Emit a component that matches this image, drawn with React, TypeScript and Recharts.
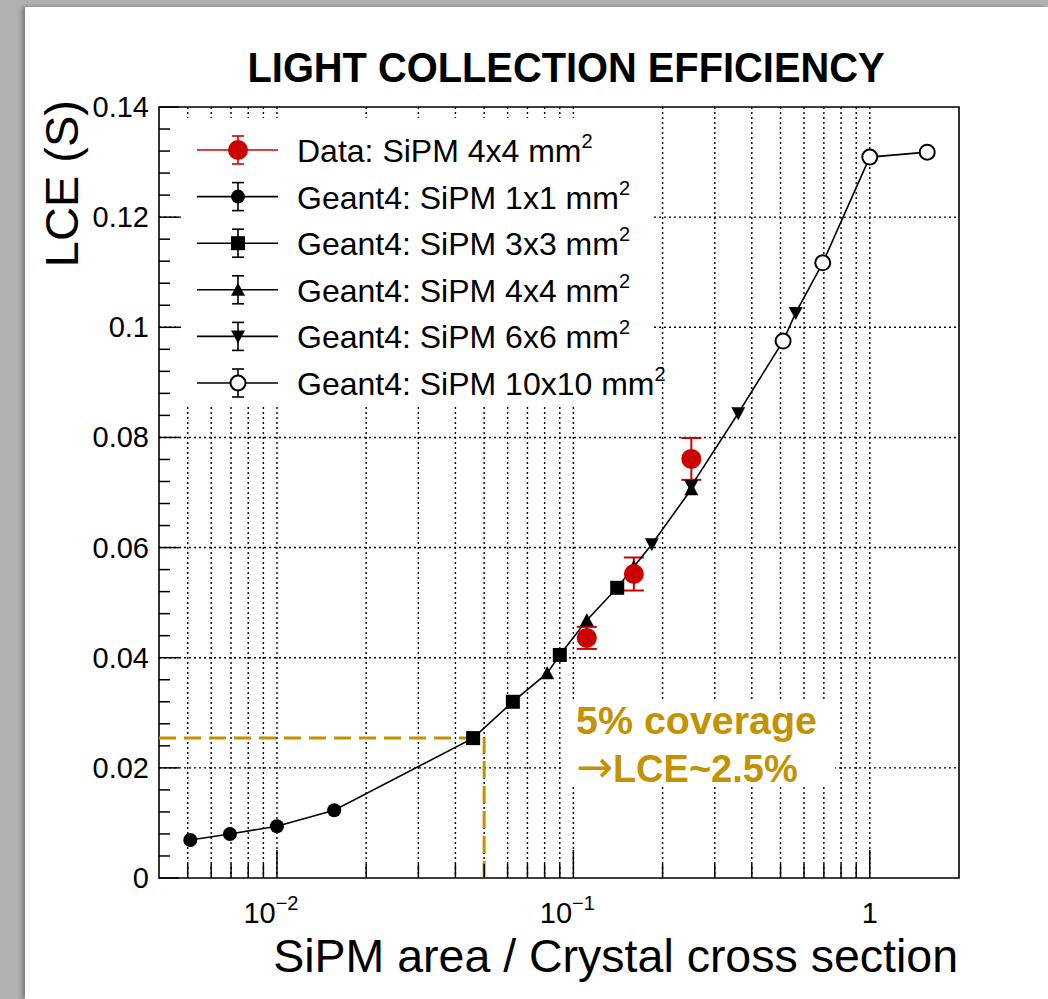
import React from "react";
import { ScatterChart, Scatter, XAxis, YAxis, CartesianGrid, ReferenceLine, ReferenceArea, ErrorBar } from "recharts";

// SiPM area / crystal cross section (x) and LCE (y)
const sipm1x1X = [0.0051, 0.00694, 0.01, 0.0156];
const sipm1x1Y = [0.0069, 0.008, 0.0094, 0.0123];
const sipm3x3X = [0.0459, 0.0625, 0.09, 0.1406];
const sipm3x3Y = [0.0254, 0.032, 0.0405, 0.0527];
const sipm4x4X = [0.0816, 0.111, 0.16, 0.25];
const sipm4x4Y = [0.0372, 0.0468, 0.0565, 0.0706];
const sipm6x6X = [0.184, 0.25, 0.36, 0.5625];
const sipm6x6Y = [0.0606, 0.0712, 0.0844, 0.1026];
const sipm10x10X = [0.51, 0.694, 1.0, 1.5625];
const sipm10x10Y = [0.0975, 0.1117, 0.1309, 0.1318];
const dataX = [0.111, 0.16, 0.25];
const dataY = [0.0436, 0.0552, 0.0761];
const dataErr = [0.002, 0.003, 0.0038];

const xDomain = [0.004, 2];
const xDecades = [0.001, 0.01, 0.1];
const xDecadeLabels: Record<string, [string, string]> = { "0.01": ["10", "\u22122"], "0.1": ["10", "\u22121"], "1": ["1", ""] };
const yLabels = ["0", "0.02", "0.04", "0.06", "0.08", "0.1", "0.12", "0.14"];
const yStep = 0.004;

const coverageX = 0.05;
const coverageY = 0.0254;

const legendItems = [
  { label: "Data: SiPM 4x4 mm", kind: "data" },
  { label: "Geant4: SiPM 1x1 mm", kind: "circle" },
  { label: "Geant4: SiPM 3x3 mm", kind: "square" },
  { label: "Geant4: SiPM 4x4 mm", kind: "triUp" },
  { label: "Geant4: SiPM 6x6 mm", kind: "triDown" },
  { label: "Geant4: SiPM 10x10 mm", kind: "open" },
];

const FONT = '"Liberation Sans", Arial, Helvetica, sans-serif';
const RED = "#cc0000";
const GOLD = "#c39200";

const toPoints = (xs: number[], ys: number[]) => xs.map((x, i) => ({ x, y: ys[i] }));
const s1 = toPoints(sipm1x1X, sipm1x1Y);
const s3 = toPoints(sipm3x3X, sipm3x3Y);
const s4 = toPoints(sipm4x4X, sipm4x4Y);
const s6 = toPoints(sipm6x6X, sipm6x6Y);
const s10 = toPoints(sipm10x10X, sipm10x10Y);
const dataPts = dataX.map((x, i) => ({ x, y: dataY[i], err: dataErr[i] }));
const curve = [...s1, ...s3, ...s4, ...s6, ...s10].sort((a, b) => a.x - b.x || a.y - b.y);

const xTicks = [
  ...xDecades.flatMap((d) => [1, 2, 3, 4, 5, 6, 7, 8, 9].map((m) => +(m * d).toPrecision(3))),
  1,
].filter((v) => v > xDomain[0] && v < xDomain[1]);
const yTicks = Array.from({ length: 36 }, (_, i) => +(i * yStep).toFixed(3));
const yMajor = yLabels.slice(1, -1).map(Number);

const PLOT_LEFT = 159;
const PLOT_BOTTOM = 878;

function Marker({ kind, cx, cy }: { kind: string; cx: number; cy: number }) {
  switch (kind) {
    case "data":
      return <circle cx={cx} cy={cy} r={10} fill={RED} />;
    case "circle":
      return <circle cx={cx} cy={cy} r={7} fill="#000" />;
    case "square":
      return <rect x={cx - 7} y={cy - 7} width={14} height={14} fill="#000" />;
    case "triUp":
      return <polygon points={`${cx},${cy - 7} ${cx - 7},${cy + 6} ${cx + 7},${cy + 6}`} fill="#000" />;
    case "triDown":
      return <polygon points={`${cx},${cy + 7} ${cx - 7},${cy - 6} ${cx + 7},${cy - 6}`} fill="#000" />;
    default:
      return <circle cx={cx} cy={cy} r={7.5} fill="#fff" stroke="#000" strokeWidth={2} />;
  }
}

const shapeOf = (kind: string) => (p: any) => <Marker kind={kind} cx={p.cx} cy={p.cy} />;

function XTick(props: any) {
  const { x, payload } = props;
  const y = PLOT_BOTTOM;
  const v = payload.value;
  const lg = Math.log10(v);
  const major = Math.abs(lg - Math.round(lg)) < 1e-6;
  const lab = xDecadeLabels[String(v)];
  return (
    <g>
      <line x1={x} x2={x} y1={y} y2={y - (major ? 28 : 14)} stroke="#000" strokeWidth={1.5} />
      {major && lab && (
        <text x={lab[1] ? x - 6 : x} y={y + 45} textAnchor="middle" fontFamily={FONT} fontSize={29} fill="#000">
          <tspan>{lab[0]}</tspan>
          {lab[1] && <tspan dy={-13} fontSize={20}>{lab[1]}</tspan>}
        </text>
      )}
    </g>
  );
}

function YTick(props: any) {
  const { y, payload } = props;
  const x = PLOT_LEFT;
  const idx = Math.round(payload.value / yStep);
  const major = idx % 5 === 0;
  return (
    <g>
      <line x1={x} x2={x + (major ? 20 : 11)} y1={y} y2={y} stroke="#000" strokeWidth={1.5} />
      {major && (
        <text x={x - 10} y={y + 10} textAnchor="end" fontFamily={FONT} fontSize={29} fill="#000">
          {yLabels[idx / 5]}
        </text>
      )}
    </g>
  );
}

export default function App() {
  return (
    <div style={{ position: "absolute", left: 0, top: 0, width: 1048, height: 999, background: "#b1b1b1", overflow: "hidden" }}>
      <div style={{ position: "absolute", left: 25, top: 7, width: 1023, height: 992, background: "#fff", boxShadow: "-3px 0 4px rgba(0,0,0,0.3)" }} />
      <div style={{ position: "absolute", left: 0, top: 0 }}>
        <ScatterChart width={1048} height={999} margin={{ top: 107, right: 89, bottom: 61, left: 99 }}>
          <CartesianGrid
            stroke="#000"
            strokeWidth={1.4}
            strokeDasharray="2 3"
            horizontalValues={yMajor}
            verticalValues={xTicks}
          />
          <XAxis
            dataKey="x"
            type="number"
            scale="log"
            domain={xDomain}
            ticks={xTicks}
            interval={0}
            allowDataOverflow
            axisLine={false}
            tickLine={false}
            height={60}
            tick={<XTick />}
          />
          <YAxis
            dataKey="y"
            type="number"
            domain={[0, 0.14]}
            ticks={yTicks}
            interval={0}
            allowDataOverflow
            axisLine={false}
            tickLine={false}
            width={60}
            tick={<YTick />}
          />
          <ReferenceArea x1={xDomain[0]} x2={xDomain[1]} y1={0} y2={0.14} fill="none" fillOpacity={0} stroke="#000" strokeWidth={1.6} ifOverflow="visible" />
          <ReferenceLine
            segment={[{ x: xDomain[0], y: coverageY }, { x: coverageX, y: coverageY }]}
            stroke={GOLD}
            strokeWidth={3}
            strokeDasharray="17 8"
            ifOverflow="visible"
          />
          <ReferenceLine
            segment={[{ x: coverageX, y: 0 }, { x: coverageX, y: coverageY }]}
            stroke={GOLD}
            strokeWidth={3}
            strokeDasharray="17 8"
            ifOverflow="visible"
          />
          <Scatter data={curve} line={{ stroke: "#000", strokeWidth: 1.6 }} shape={() => <g />} isAnimationActive={false} />
          <Scatter data={s1} shape={shapeOf("circle")} isAnimationActive={false} />
          <Scatter data={s3} shape={shapeOf("square")} isAnimationActive={false} />
          <Scatter data={s4} shape={shapeOf("triUp")} isAnimationActive={false} />
          <Scatter data={s6} shape={shapeOf("triDown")} isAnimationActive={false} />
          <Scatter data={s10} shape={shapeOf("open")} isAnimationActive={false} />
          <Scatter data={dataPts} shape={shapeOf("data")} isAnimationActive={false}>
            <ErrorBar dataKey="err" direction="y" width={10} stroke={RED} strokeWidth={2} />
          </Scatter>
        </ScatterChart>
      </div>
      <svg width={1048} height={999} style={{ position: "absolute", left: 0, top: 0, pointerEvents: "none" }}>
        <text x={566} y={82} textAnchor="middle" fontFamily={FONT} fontWeight="bold" fontSize={42} textLength={637} lengthAdjust="spacingAndGlyphs">
          LIGHT COLLECTION EFFICIENCY
        </text>
        <text transform="translate(78,100) rotate(-90)" textAnchor="end" fontFamily={FONT} fontSize={47}>
          LCE (S)
        </text>
        <text x={958} y={972} textAnchor="end" fontFamily={FONT} fontSize={46.5}>
          SiPM area / Crystal cross section
        </text>

        <rect x={181} y={118} width={471} height={287} fill="#fff" />
        {legendItems.map((it, i) => {
          const cy = 150 + i * 46.6;
          const col = it.kind === "data" ? RED : "#000";
          return (
            <g key={it.label}>
              <line x1={197} x2={278} y1={cy} y2={cy} stroke={col} strokeWidth={1.6} />
              <line x1={238} x2={238} y1={cy - 14} y2={cy + 14} stroke={col} strokeWidth={1.6} />
              <line x1={232} x2={244} y1={cy - 14} y2={cy - 14} stroke={col} strokeWidth={1.6} />
              <line x1={232} x2={244} y1={cy + 14} y2={cy + 14} stroke={col} strokeWidth={1.6} />
              <Marker kind={it.kind} cx={238} cy={cy} />
              <text x={297} y={cy + 12} fontFamily={FONT} fontSize={32} fill="#000">
                <tspan>{it.label}</tspan>
                <tspan dy={-14} fontSize={20}>2</tspan>
              </text>
            </g>
          );
        })}

        <rect x={561} y={700} width={274} height={87} fill="#fff" />
        <text x={576} y={734} fontFamily={FONT} fontWeight="bold" fontSize={38} fill={GOLD} textLength={241} lengthAdjust="spacingAndGlyphs">
          5% coverage
        </text>
        <text x={576} y={782} fontFamily={FONT} fontWeight="bold" fontSize={38} fill={GOLD}>
          <tspan fontFamily='"DejaVu Sans", sans-serif' fontWeight="normal" fontSize={44}>{"\u2192"}</tspan>
          <tspan>LCE~2.5%</tspan>
        </text>
      </svg>
    </div>
  );
}
